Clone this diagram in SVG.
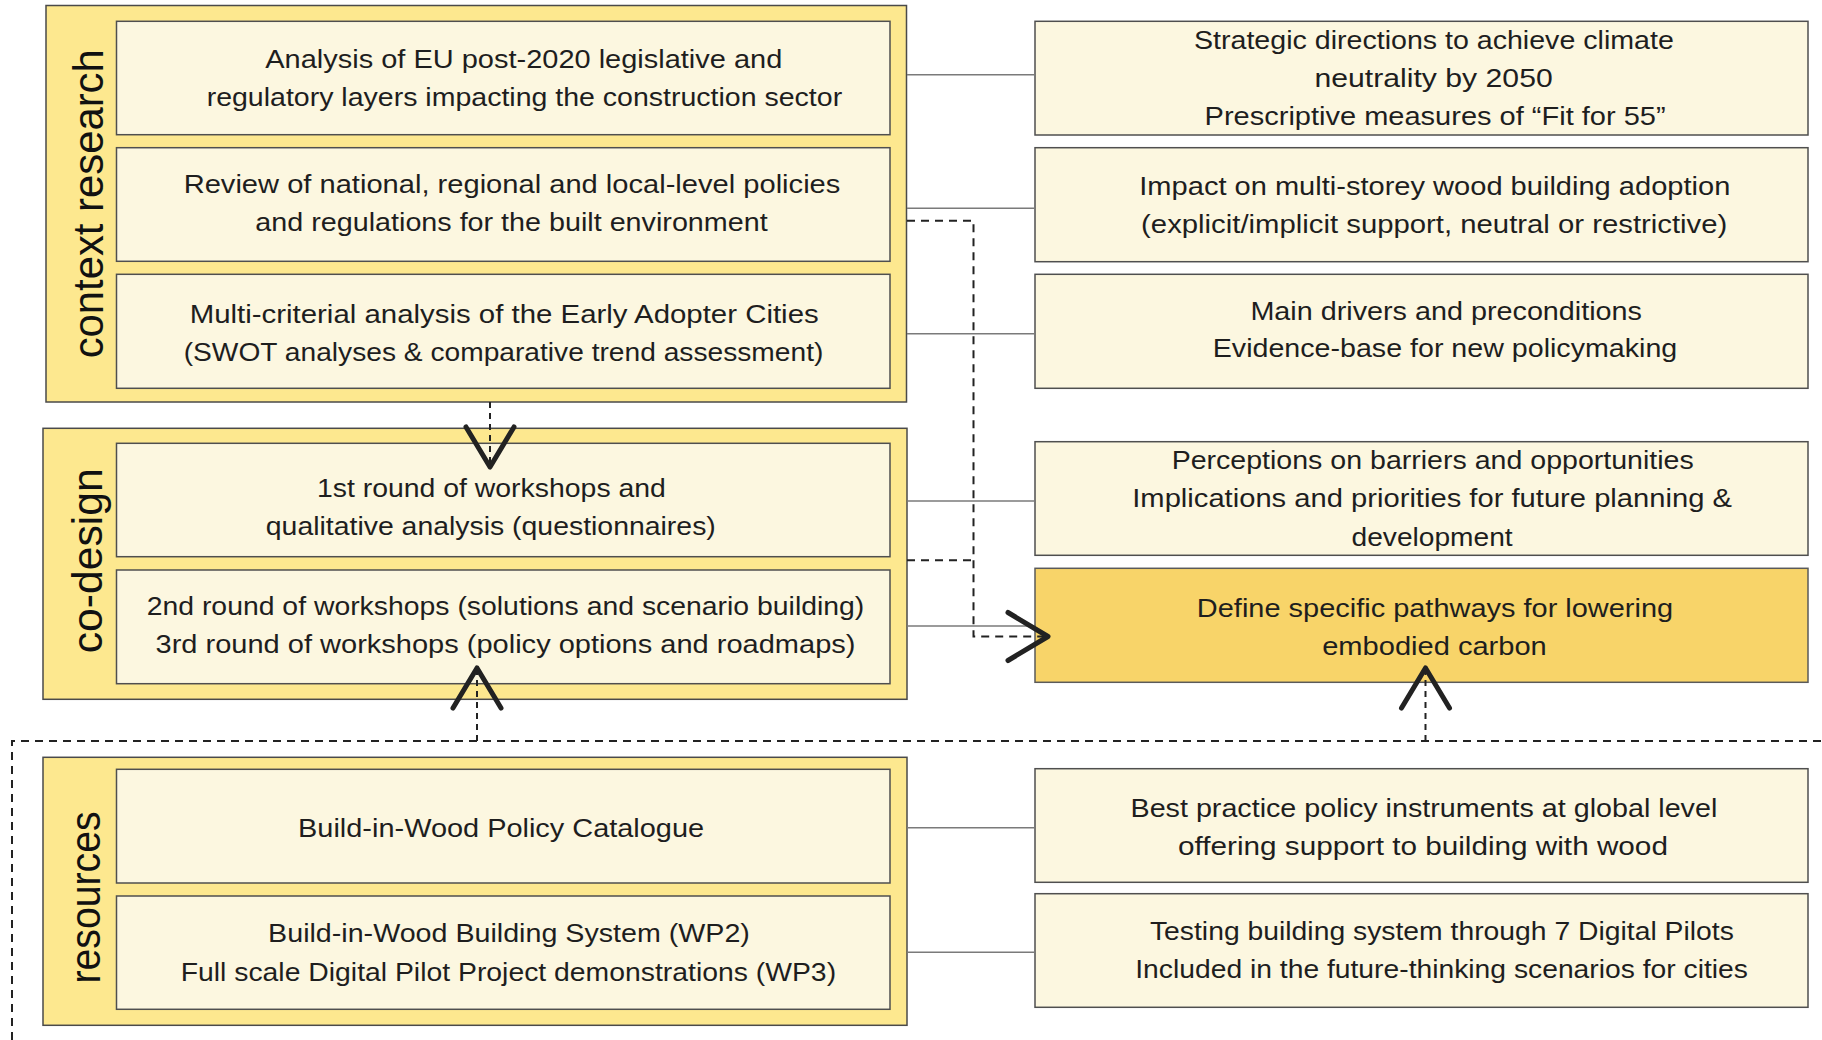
<svg xmlns="http://www.w3.org/2000/svg" width="1822" height="1040" viewBox="0 0 1822 1040">
  <style>
    .bg { fill: #ffffff; }
    .group { fill: #FDE88F; stroke: #4a4a4a; stroke-width: 1.5; }
    .item { fill: #FCF7E0; stroke: #4f4f4f; stroke-width: 1.5; }
    .goal { fill: #F8D469; stroke: #5a5a5a; stroke-width: 1.5; }
    .txt { font-family: "Liberation Sans", Arial, sans-serif; font-size: 26px; fill: #1e1e1e; text-anchor: middle; }
    .lbl { font-family: "Liberation Sans", Arial, sans-serif; font-size: 43px; fill: #111111; text-anchor: middle; }
    .link { fill: none; stroke: #7a7a7a; stroke-width: 1.4; }
    .dash { fill: none; stroke: #222222; stroke-width: 2; stroke-dasharray: 8 6; }
    .dash-s { fill: none; stroke: #222222; stroke-width: 2; stroke-dasharray: 6 5; }
    .chev { fill: none; stroke: #222222; stroke-width: 5; stroke-linecap: round; stroke-linejoin: round; }
  </style>
  <defs>
    <marker id="open-arrow" markerUnits="userSpaceOnUse" markerWidth="60" markerHeight="60" viewBox="-48 -30 56 60" refX="0" refY="0" orient="auto" overflow="visible">
      <path class="chev" d="M-40,-24 L0,0 L-40,24"/>
    </marker>
  </defs>

  <rect class="bg" x="0" y="0" width="1822" height="1040"/>

  <!-- stage: context research -->
  <g id="context-research">
    <rect class="group" x="46" y="5.5" width="860.5" height="396.5"/>
    <text class="lbl" transform="translate(103.3,203.8) rotate(-90)" textLength="309" lengthAdjust="spacingAndGlyphs">context research</text>
  </g>
  <g id="eu-analysis">
    <rect class="item" x="116.5" y="21.3" width="773.5" height="113.4"/>
    <text class="txt" x="523.8" y="68.3" textLength="517" lengthAdjust="spacingAndGlyphs">Analysis of EU post-2020 legislative and</text>
    <text class="txt" x="524.4" y="106" textLength="635.5" lengthAdjust="spacingAndGlyphs">regulatory layers impacting the construction sector</text>
  </g>
  <g id="policy-review">
    <rect class="item" x="116.5" y="147.7" width="773.5" height="113.6"/>
    <text class="txt" x="512" y="192.7" textLength="656.7" lengthAdjust="spacingAndGlyphs">Review of national, regional and local-level policies</text>
    <text class="txt" x="511.5" y="230.7" textLength="512.3" lengthAdjust="spacingAndGlyphs">and regulations for the built environment</text>
  </g>
  <g id="city-analysis">
    <rect class="item" x="116.5" y="274.3" width="773.5" height="114"/>
    <text class="txt" x="504.2" y="322.7" textLength="629" lengthAdjust="spacingAndGlyphs">Multi-criterial analysis of the Early Adopter Cities</text>
    <text class="txt" x="503.5" y="360.7" textLength="639.7" lengthAdjust="spacingAndGlyphs">(SWOT analyses &amp; comparative trend assessment)</text>
  </g>

  <!-- stage: co-design -->
  <g id="co-design">
    <rect class="group" x="43" y="428.3" width="864" height="271"/>
    <text class="lbl" transform="translate(101.7,560.8) rotate(-90)" textLength="185" lengthAdjust="spacingAndGlyphs">co-design</text>
  </g>
  <g id="workshops-1">
    <rect class="item" x="116.5" y="443.3" width="773.5" height="113.4"/>
    <text class="txt" x="491.4" y="496.7" textLength="349" lengthAdjust="spacingAndGlyphs">1st round of workshops and</text>
    <text class="txt" x="490.8" y="535" textLength="450" lengthAdjust="spacingAndGlyphs">qualitative analysis (questionnaires)</text>
  </g>
  <g id="workshops-2-3">
    <rect class="item" x="116.5" y="570" width="773.5" height="113.7"/>
    <text class="txt" x="505.5" y="615" textLength="717.6" lengthAdjust="spacingAndGlyphs">2nd round of workshops (solutions and scenario building)</text>
    <text class="txt" x="505.5" y="653.3" textLength="700" lengthAdjust="spacingAndGlyphs">3rd round of workshops (policy options and roadmaps)</text>
  </g>

  <!-- stage: resources -->
  <g id="resources">
    <rect class="group" x="43" y="757.3" width="864" height="268"/>
    <text class="lbl" transform="translate(100,897.5) rotate(-90)" textLength="172" lengthAdjust="spacingAndGlyphs">resources</text>
  </g>
  <g id="policy-catalogue">
    <rect class="item" x="116.5" y="769.3" width="773.5" height="113.7"/>
    <text class="txt" x="501.1" y="837.3" textLength="406" lengthAdjust="spacingAndGlyphs">Build-in-Wood Policy Catalogue</text>
  </g>
  <g id="building-system">
    <rect class="item" x="116.5" y="896" width="773.5" height="113.3"/>
    <text class="txt" x="509" y="941.7" textLength="481.8" lengthAdjust="spacingAndGlyphs">Build-in-Wood Building System (WP2)</text>
    <text class="txt" x="508.4" y="981" textLength="655.4" lengthAdjust="spacingAndGlyphs">Full scale Digital Pilot Project demonstrations (WP3)</text>
  </g>

  <!-- outcomes column -->
  <g id="strategic-directions">
    <rect class="item" x="1035" y="21.3" width="773" height="113.7"/>
    <text class="txt" x="1433.9" y="49.3" textLength="479.8" lengthAdjust="spacingAndGlyphs">Strategic directions to achieve climate</text>
    <text class="txt" x="1433.6" y="87.3" textLength="238.2" lengthAdjust="spacingAndGlyphs">neutrality by 2050</text>
    <text class="txt" x="1435.1" y="125.3" textLength="461" lengthAdjust="spacingAndGlyphs">Prescriptive measures of “Fit for 55”</text>
  </g>
  <g id="adoption-impact">
    <rect class="item" x="1035" y="147.7" width="773" height="114"/>
    <text class="txt" x="1434.8" y="195" textLength="591" lengthAdjust="spacingAndGlyphs">Impact on multi-storey wood building adoption</text>
    <text class="txt" x="1434.2" y="232.7" textLength="586.2" lengthAdjust="spacingAndGlyphs">(explicit/implicit support, neutral or restrictive)</text>
  </g>
  <g id="drivers">
    <rect class="item" x="1035" y="274.3" width="773" height="114"/>
    <text class="txt" x="1446.2" y="320" textLength="391.6" lengthAdjust="spacingAndGlyphs">Main drivers and preconditions</text>
    <text class="txt" x="1445" y="357.3" textLength="464.5" lengthAdjust="spacingAndGlyphs">Evidence-base for new policymaking</text>
  </g>
  <g id="perceptions">
    <rect class="item" x="1035" y="441.7" width="773" height="113.6"/>
    <text class="txt" x="1432.7" y="469.3" textLength="522.1" lengthAdjust="spacingAndGlyphs">Perceptions on barriers and opportunities</text>
    <text class="txt" x="1432.1" y="507.3" textLength="599.7" lengthAdjust="spacingAndGlyphs">Implications and priorities for future planning &amp;</text>
    <text class="txt" x="1432.1" y="546" textLength="161.1" lengthAdjust="spacingAndGlyphs">development</text>
  </g>
  <g id="pathways">
    <rect class="goal" x="1035" y="568.3" width="773" height="114"/>
    <text class="txt" x="1435" y="617.3" textLength="476.3" lengthAdjust="spacingAndGlyphs">Define specific pathways for lowering</text>
    <text class="txt" x="1434.5" y="655" textLength="224.6" lengthAdjust="spacingAndGlyphs">embodied carbon</text>
  </g>
  <g id="best-practice">
    <rect class="item" x="1035" y="768.7" width="773" height="113.6"/>
    <text class="txt" x="1423.9" y="817.3" textLength="586.8" lengthAdjust="spacingAndGlyphs">Best practice policy instruments at global level</text>
    <text class="txt" x="1423" y="855" textLength="489.8" lengthAdjust="spacingAndGlyphs">offering support to building with wood</text>
  </g>
  <g id="digital-pilots">
    <rect class="item" x="1035" y="893.7" width="773" height="113.6"/>
    <text class="txt" x="1441.9" y="940" textLength="583.9" lengthAdjust="spacingAndGlyphs">Testing building system through 7 Digital Pilots</text>
    <text class="txt" x="1441.6" y="977.7" textLength="612.7" lengthAdjust="spacingAndGlyphs">Included in the future-thinking scenarios for cities</text>
  </g>

  <!-- connectors -->
  <g id="connectors">
    <!-- plain links from each stage to its outcome -->
    <path class="link" d="M907,74.7 H1035"/>
    <path class="link" d="M907,208.3 H1035"/>
    <path class="link" d="M907,333.7 H1035"/>
    <path class="link" d="M907,501 H1035"/>
    <path class="link" d="M907,626 H1035"/>
    <path class="link" d="M907,827.7 H1035"/>
    <path class="link" d="M907,952.3 H1035"/>

    <!-- policy review and co-design feed the pathways -->
    <path class="dash" d="M907,220.7 H973.5 V636.5 H1048" marker-end="url(#open-arrow)"/>
    <path class="dash" d="M907,560.3 H973.5"/>

    <!-- context research into co-design -->
    <path class="dash-s" d="M490,402 V467" marker-end="url(#open-arrow)"/>

    <!-- resources bus feeding co-design and pathways -->
    <path class="dash" d="M12,1040 V741 H1822"/>
    <path class="dash-s" d="M477,741 V668" marker-end="url(#open-arrow)"/>
    <path class="dash-s" d="M1425.5,741 V668" marker-end="url(#open-arrow)"/>
  </g>
</svg>
